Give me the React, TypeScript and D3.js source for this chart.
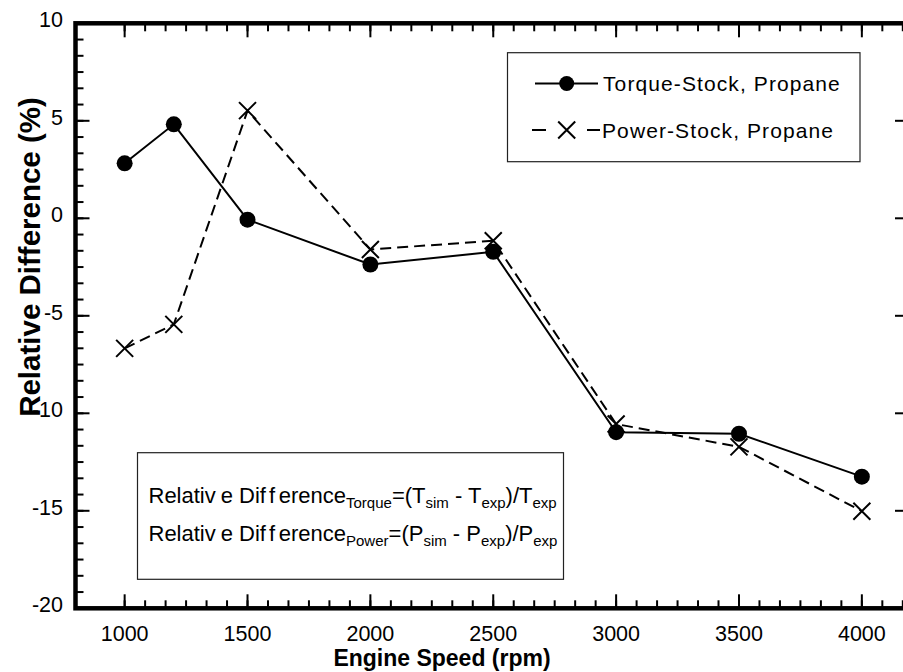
import React from "react";
import * as d3 from "d3";

// Engine speed (rpm) at which each relative difference was evaluated
const rpm = [1000, 1200, 1500, 2000, 2500, 3000, 3500, 4000];
// Relative difference of torque, simulated vs. experimental (%)
const torqueDiff = [2.82, 4.82, -0.07, -2.37, -1.72, -10.97, -11.05, -13.25];
// Relative difference of power, simulated vs. experimental (%)
const powerDiff = [-6.67, -5.44, 5.52, -1.6, -1.15, -10.55, -11.72, -15.02];

const xMajorTicks = [1000, 1500, 2000, 2500, 3000, 3500, 4000];
const yMajorTicks = [-20, -15, -10, -5, 0, 5, 10];

const seriesNames = ["Torque-Stock, Propane", "Power-Stock, Propane"];

const W = 903;
const H = 672;
const FONT = "'Liberation Sans', Arial, Helvetica, sans-serif";

function Formula({ y, sym, sub }: { y: number; sym: string; sub: string }) {
  const fs = 22;
  const sfs = 15;
  const d = 5;
  return (
    <text x={148.5} y={y} fontSize={fs}>
      <tspan>Relativ</tspan>
      <tspan dx={5}>e Dif</tspan>
      <tspan dx={3.5}>f</tspan>
      <tspan dx={3.5}>erence</tspan>
      <tspan dy={d} fontSize={sfs}>{sub}</tspan>
      <tspan dy={-d}>{`=(${sym}`}</tspan>
      <tspan dy={d} fontSize={sfs}>sim</tspan>
      <tspan dy={-d}>{` - ${sym}`}</tspan>
      <tspan dy={d} fontSize={sfs}>exp</tspan>
      <tspan dy={-d}>{`)/${sym}`}</tspan>
      <tspan dy={d} fontSize={sfs}>exp</tspan>
    </text>
  );
}

export default function App() {
  const x = d3.scaleLinear().domain([800, 4200]).range([75.5, 911]);
  const y = d3.scaleLinear().domain([-20, 10]).range([608.3, 23.3]);

  const [x0, x1] = x.range();
  const [yb, yt] = y.range();

  // 5 minor ticks between consecutive majors
  const xMinor: number[] = [];
  for (let v = 1000; v <= 4200 + 1e-6; v += 500 / 6) xMinor.push(v);
  const yMinor: number[] = [];
  for (let v = -20; v <= 10 + 1e-6; v += 5 / 6) yMinor.push(v);

  const line = d3
    .line<[number, number]>()
    .x((d) => x(d[0]))
    .y((d) => y(d[1]));

  const torquePts: [number, number][] = rpm.map((r, i) => [r, torqueDiff[i]]);
  const powerPts: [number, number][] = rpm.map((r, i) => [r, powerDiff[i]]);

  const cross = (cx: number, cy: number, s: number, key?: string | number) => (
    <path
      key={key}
      d={`M${cx - s},${cy - s}L${cx + s},${cy + s}M${cx - s},${cy + s}L${cx + s},${cy - s}`}
      stroke="#000"
      strokeWidth={2}
      fill="none"
    />
  );

  const majLen = 14;
  const minLen = 8;

  return (
    <svg
      width={W}
      height={H}
      style={{ position: "absolute", left: 0, top: 0, background: "#fff" }}
      fontFamily={FONT}
    >
      <rect x={0} y={0} width={W} height={H} fill="#fff" />

      {/* data lines */}
      <path d={line(powerPts) || ""} fill="none" stroke="#000" strokeWidth={2} strokeDasharray="11,6" />
      <path d={line(torquePts) || ""} fill="none" stroke="#000" strokeWidth={2} />
      {torquePts.map((p, i) => (
        <circle key={"c" + i} cx={x(p[0])} cy={y(p[1])} r={8} fill="#000" />
      ))}
      {powerPts.map((p, i) => cross(x(p[0]), y(p[1]), 8.5, "x" + i))}

      {/* ticks on all four sides, pointing inward */}
      <g stroke="#000" strokeWidth={2}>
        {xMinor.map((v, i) => (
          <g key={"xm" + i}>
            <line x1={x(v)} x2={x(v)} y1={yb} y2={yb - minLen} />
            <line x1={x(v)} x2={x(v)} y1={yt} y2={yt + minLen} />
          </g>
        ))}
        {xMajorTicks.map((v) => (
          <g key={"xM" + v}>
            <line x1={x(v)} x2={x(v)} y1={yb} y2={yb - majLen} />
            <line x1={x(v)} x2={x(v)} y1={yt} y2={yt + majLen} />
          </g>
        ))}
        {yMinor.map((v, i) => (
          <g key={"ym" + i}>
            <line x1={x0} x2={x0 + minLen} y1={y(v)} y2={y(v)} />
            <line x1={x1} x2={x1 - minLen} y1={y(v)} y2={y(v)} />
          </g>
        ))}
        {yMajorTicks.map((v) => (
          <g key={"yM" + v}>
            <line x1={x0} x2={x0 + majLen} y1={y(v)} y2={y(v)} />
            <line x1={x1} x2={x1 - majLen - 2} y1={y(v)} y2={y(v)} />
          </g>
        ))}
      </g>

      {/* frame */}
      <rect x={x0} y={yt} width={x1 - x0} height={yb - yt} fill="none" stroke="#000" strokeWidth={4.5} />

      {/* tick labels */}
      <g fontSize={21.5} fill="#000">
        {xMajorTicks.map((v) => (
          <text key={"xl" + v} x={x(v)} y={641} textAnchor="middle">
            {v}
          </text>
        ))}
        {yMajorTicks.map((v) => (
          <text key={"yl" + v} x={63} y={y(v) + 3.8} textAnchor="end">
            {v}
          </text>
        ))}
      </g>

      {/* axis titles */}
      <text x={442} y={666} textAnchor="middle" fontWeight="bold" fontSize={23}>
        Engine Speed (rpm)
      </text>
      <text
        transform={`translate(40,257) rotate(-90)`}
        textAnchor="middle"
        fontWeight="bold"
        fontSize={29.5}
      >
        Relative Difference (%)
      </text>

      {/* legend */}
      <rect x={507.5} y={52.7} width={352.5} height={109} fill="#fff" stroke="#222" strokeWidth={1.2} />
      <line x1={535} x2={598} y1={83.5} y2={83.5} stroke="#000" strokeWidth={2} />
      <circle cx={566.7} cy={83.5} r={7.5} fill="#000" />
      <text x={603} y={91} fontSize={21} letterSpacing={1.1}>
        {seriesNames[0]}
      </text>
      <line x1={532} x2={546} y1={130} y2={130} stroke="#000" strokeWidth={2} />
      <line x1={587} x2={600} y1={130} y2={130} stroke="#000" strokeWidth={2} />
      {cross(566.7, 130, 8.5)}
      <text x={602} y={137.5} fontSize={21} letterSpacing={1.1}>
        {seriesNames[1]}
      </text>

      {/* formula box */}
      <rect x={137.5} y={452.7} width={426} height={126.6} fill="#fff" stroke="#222" strokeWidth={1.2} />
      <Formula y={503} sym="T" sub="Torque" />
      <Formula y={541} sym="P" sub="Power" />
    </svg>
  );
}
